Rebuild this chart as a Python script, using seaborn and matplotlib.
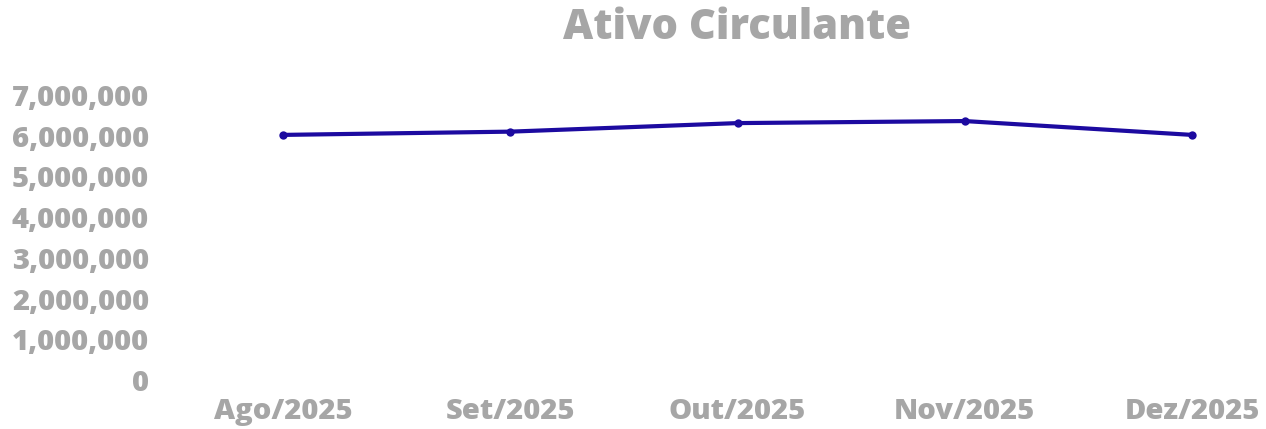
import pandas as pd
import matplotlib
matplotlib.use("Agg")
import matplotlib.pyplot as plt
import seaborn as sns
from matplotlib.ticker import FuncFormatter

# dados
meses = ["Ago/2025", "Set/2025", "Out/2025", "Nov/2025", "Dez/2025"]
ativo_circulante = [6020000, 6100000, 6310000, 6360000, 6020000]
y_ticks = [0, 1000000, 2000000, 3000000, 4000000, 5000000, 6000000, 7000000]

df = pd.DataFrame({"mes": meses, "valor": ativo_circulante})

sns.set_style("white")
plt.rcParams['font.family'] = ['Open Sans', 'DejaVu Sans']
cinza = "#a6a6a6"
azul = "#1c0aa0"

W, H = 1266, 429
fig = plt.figure(figsize=(W / 100, H / 100), dpi=100)
ax = fig.add_axes([283 / W, 49 / H, (1192 - 283) / W, (380 - 95) / H])

sns.lineplot(data=df, x="mes", y="valor", ax=ax, color=azul, linewidth=3,
             marker="o", markersize=6, markeredgewidth=0, sort=False, clip_on=False)

ax.set_xlim(0, 4)
ax.set_ylim(0, 7000000)
ax.set_yticks(y_ticks)
ax.yaxis.set_major_formatter(FuncFormatter(lambda v, p: f"{int(v):,}"))
ax.set_xlabel("")
ax.set_ylabel("")
for s in ax.spines.values():
    s.set_visible(False)
ax.tick_params(axis="both", length=0, colors=cinza, labelsize=21)
ax.tick_params(axis="y", pad=(283 - 149) * 0.72)
ax.tick_params(axis="x", pad=12)
for lbl in ax.get_xticklabels() + ax.get_yticklabels():
    lbl.set_fontweight(800)
    lbl.set_color(cinza)

fig.text(737 / W, 1 - 28 / H, "Ativo Circulante", ha="center", va="center",
         fontsize=30, fontweight=800, color=cinza)

plt.savefig("out.png", dpi=100)
plt.close()
